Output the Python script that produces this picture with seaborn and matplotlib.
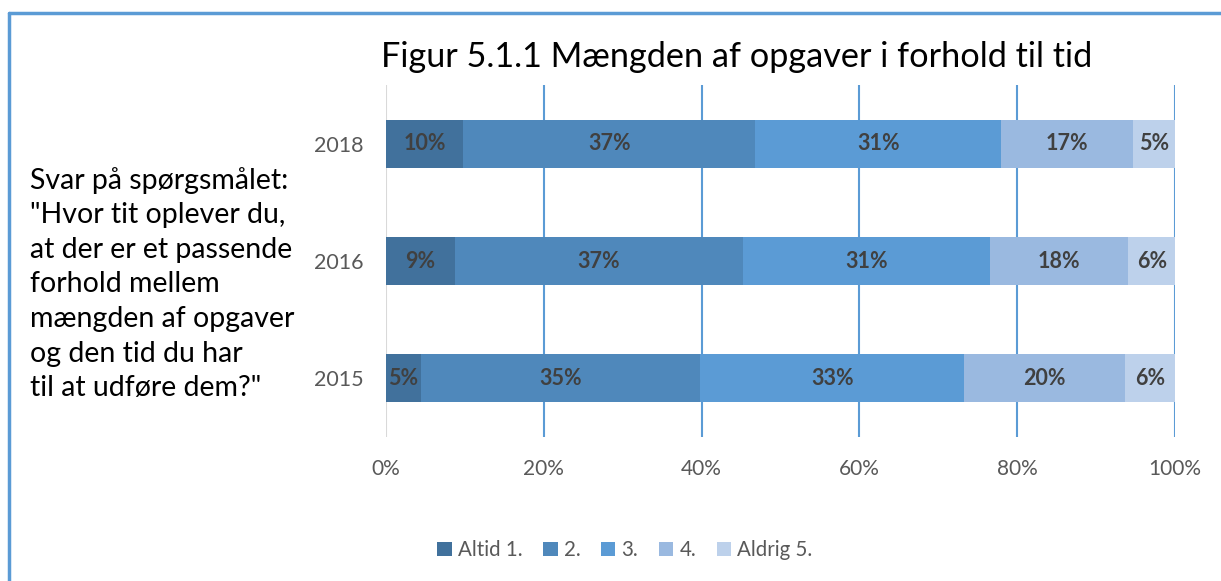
import matplotlib
matplotlib.use("Agg")
import matplotlib.pyplot as plt
import seaborn as sns
import pandas as pd
import numpy as np
from matplotlib.patches import Patch
from matplotlib.lines import Line2D

# ---- data ----
years = ["2018", "2016", "2015"]
series_names = ["Altid 1.", "2.", "3.", "4.", "Aldrig 5."]
altid1 = [9.8, 8.7, 4.4]
s2 = [37.0, 36.6, 35.4]
s3 = [31.2, 31.2, 33.5]
s4 = [16.7, 17.6, 20.3]
aldrig5 = [5.3, 5.9, 6.4]
labels = [["10%", "9%", "5%"], ["37%", "37%", "35%"], ["31%", "31%", "33%"],
          ["17%", "18%", "20%"], ["5%", "6%", "6%"]]
tick_vals = [0, 20, 40, 60, 80, 100]
title = "Figur 5.1.1 Mængden af opgaver i forhold til tid"
side_text = ("Svar på spørgsmålet:\n\"Hvor tit oplever du,\nat der er et passende\n"
             "forhold mellem\nmængden af opgaver\nog den tid du har\ntil at udføre dem?\"")

colors = ["#41719C", "#4F88BB", "#5B9BD5", "#9AB9E0", "#BDD1EB"]
FONT = ["Lato", "DejaVu Sans"]

sns.set_theme(style="white")
plt.rcParams["font.family"] = FONT

fig = plt.figure(figsize=(12.21, 5.81), dpi=100)
ax = fig.add_axes([386/1221, 1-437/581, (1175-386)/1221, (437-85)/581])

vals = [altid1, s2, s3, s4, aldrig5]
cum = np.cumsum(np.array(vals), axis=0)
df = pd.DataFrame({"year": years})
# draw from largest cumulative to smallest so segments stack visually
for i in range(4, -1, -1):
    df["v"] = cum[i]
    sns.barplot(data=df, y="year", x="v", order=years, orient="h", color=colors[i],
                saturation=1, width=0.41, ax=ax, zorder=3, linewidth=0)

# labels
for i in range(5):
    starts = cum[i] - np.array(vals[i])
    for j in range(3):
        cx = starts[j] + vals[i][j] / 2
        ax.text(cx, j, labels[i][j], ha="center", va="center", fontsize=15.5,
                fontweight="bold", color="#404040", zorder=5)

ax.set_xlim(0, 100)
ax.set_ylim(2.5, -0.5)
ax.set_xticks(tick_vals)
ax.set_xticklabels([f"{t}%" for t in tick_vals], fontsize=15, color="#595959")
ax.tick_params(axis="x", length=0, pad=16)
ax.tick_params(axis="y", length=0, pad=16, labelsize=15.5, labelcolor="#595959")
ax.set_xlabel("")
ax.set_ylabel("")
for s in ax.spines.values():
    s.set_visible(False)
for t in tick_vals:
    ax.axvline(t, color="#D9D9D9" if t == 0 else "#5B9BD5", lw=1.5, zorder=1)

fig.text(737/1221, 1-57/581, title, ha="center", va="center", fontsize=24.7, color="black")
fig.text(30/1221, 1-284/581, side_text, ha="left", va="center", fontsize=20.5,
         color="black", linespacing=1.41)

handles = [Patch(facecolor=c, edgecolor="none") for c in colors]
fig.legend(handles, series_names, loc="center", bbox_to_anchor=(625/1221, 1-550/581),
           ncol=5, frameon=False, fontsize=14.8, labelcolor="#595959",
           handlelength=0.7, handleheight=0.7, handletextpad=0.3, columnspacing=1.0)

# frame
fig.add_artist(Line2D([9/1221, 9/1221], [0, 1-13/581], transform=fig.transFigure,
                      color="#5B9BD5", lw=2.5))
fig.add_artist(Line2D([9/1221, 1], [1-13/581, 1-13/581], transform=fig.transFigure,
                      color="#5B9BD5", lw=2.5))

fig.savefig("out.png", dpi=100)
